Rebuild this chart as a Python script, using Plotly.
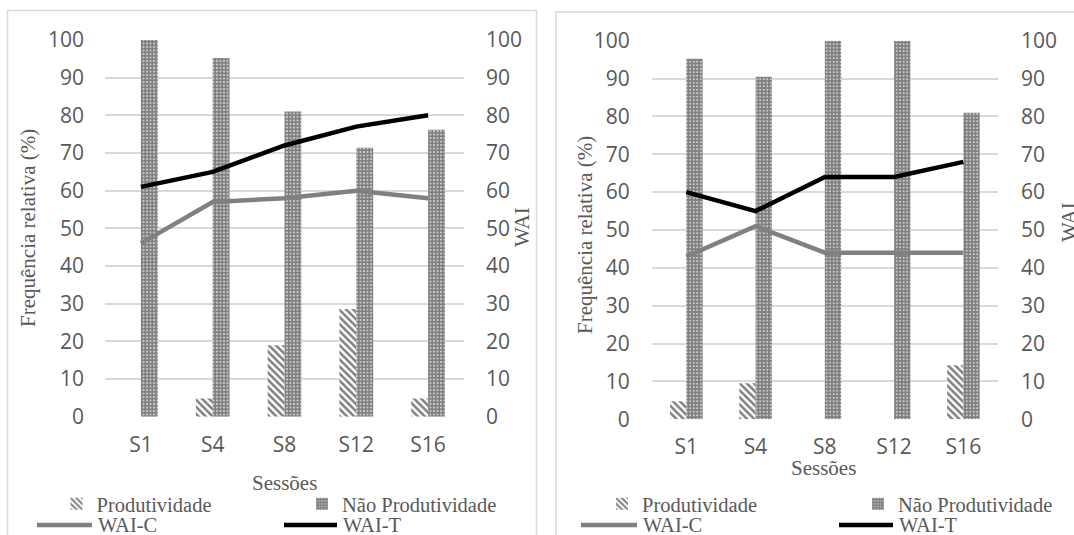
import plotly.graph_objects as go

W, H = 1074, 535

sessions = ["S1", "S4", "S8", "S12", "S16"]

# Left panel
prod_left = [0, 4.8, 19.0, 28.6, 4.8]
nprod_left = [100, 95.2, 81.0, 71.4, 76.2]
waic_left = [46, 57, 58, 60, 58]
wait_left = [61, 65, 72, 77, 80]

# Right panel
prod_right = [4.8, 9.5, 0, 0, 14.3]
nprod_right = [95.2, 90.5, 100, 100, 81.0]
waic_right = [43, 51, 44, 44, 44]
wait_right = [60, 55, 64, 64, 68]

GRAY_TXT = "#595959"
GRID = "#d9d9d9"
SANS = "Open Sans"
SERIF = "Liberation Serif"
WAIC_COLOR = "#808080"
WAIT_COLOR = "black"


def px_x(x):
    return x / W


def px_y(y):
    return 1 - y / H


fig = go.Figure()


def add_panel(prod, nprod, waic, wait, xa, ya, ya2, legs):
    fig.add_trace(go.Bar(
        x=sessions, y=prod, name="Produtividade", xaxis=xa, yaxis=ya,
        legend=legs[0],
        marker=dict(color="white", line=dict(width=0),
                    pattern=dict(shape="\\", fgcolor="black", bgcolor="white",
                                 size=5, solidity=0.5)),
    ))
    fig.add_trace(go.Bar(
        x=sessions, y=nprod, name="Não Produtividade", xaxis=xa, yaxis=ya,
        legend=legs[1],
        marker=dict(color="white", line=dict(width=0),
                    pattern=dict(shape=".", fgcolor="black", bgcolor="white",
                                 size=3.5, solidity=0.8)),
    ))
    fig.add_trace(go.Scatter(
        x=sessions, y=waic, name="WAI-C", xaxis=xa, yaxis=ya2, mode="lines",
        showlegend=False,
        line=dict(color=WAIC_COLOR, width=4.5),
    ))
    fig.add_trace(go.Scatter(
        x=sessions, y=wait, name="WAI-T", xaxis=xa, yaxis=ya2, mode="lines",
        showlegend=False,
        line=dict(color=WAIT_COLOR, width=4.5),
    ))


add_panel(prod_left, nprod_left, waic_left, wait_left, "x", "y", "y2",
          ["legend", "legend2"])
add_panel(prod_right, nprod_right, waic_right, wait_right, "x3", "y3", "y4",
          ["legend3", "legend4"])

tickfont = dict(family=SANS, size=21, color=GRAY_TXT)

xcommon = dict(type="category", showgrid=False, showline=False, zeroline=False,
               tickfont=tickfont, ticks="", ticklabelstandoff=13, fixedrange=True,
               automargin=False)
ycommon = dict(range=[0, 100], dtick=10, tickfont=tickfont, ticks="",
               zeroline=False, showline=False, fixedrange=True, automargin=False)

LEG_SIZE = 20.5
legend_font = dict(family=SERIF, size=LEG_SIZE, color=GRAY_TXT)


def legend_cfg(text_x):
    return dict(orientation="h", x=px_x(text_x - 40), y=px_y(504), xanchor="left",
                yanchor="middle", font=legend_font, bgcolor="rgba(0,0,0,0)",
                borderwidth=0, tracegroupgap=0)


fig.update_layout(
    width=W, height=H,
    margin=dict(l=0, r=0, t=0, b=0, autoexpand=False),
    paper_bgcolor="white", plot_bgcolor="white",
    barmode="group", bargap=0.53, bargroupgap=0,
    showlegend=True,
    xaxis=dict(domain=[px_x(105), px_x(464)], anchor="y", **xcommon),
    yaxis=dict(domain=[px_y(416.7), px_y(40)], anchor="x", showgrid=True,
               gridcolor=GRID, gridwidth=1.5, ticklabelstandoff=20, **ycommon),
    yaxis2=dict(overlaying="y", anchor="x", side="right", showgrid=False,
                ticklabelstandoff=21, **ycommon),
    xaxis3=dict(domain=[px_x(651.7), px_x(998)], anchor="y3", **xcommon),
    yaxis3=dict(domain=[px_y(419.3), px_y(40.7)], anchor="x3", showgrid=True,
                gridcolor=GRID, gridwidth=1.5, ticklabelstandoff=21, **ycommon),
    yaxis4=dict(overlaying="y3", anchor="x3", side="right", showgrid=False,
                ticklabelstandoff=22, **ycommon),
    legend=legend_cfg(96.5),
    legend2=legend_cfg(342),
    legend3=legend_cfg(642),
    legend4=legend_cfg(898),
)

ann_font = dict(family=SERIF, size=21, color=GRAY_TXT)
annotations = [
    dict(text="Frequência relativa (%)", x=px_x(28), y=px_y(228), textangle=-90),
    dict(text="WAI", x=px_x(522), y=px_y(227), textangle=-90),
    dict(text="Sessões", x=px_x(284.5), y=px_y(483)),
    dict(text="Frequência relativa (%)", x=px_x(585), y=px_y(235), textangle=-90),
    dict(text="WAI", x=px_x(1069), y=px_y(222), textangle=-90),
    dict(text="Sessões", x=px_x(823), y=px_y(468)),
]
for a in annotations:
    fig.add_annotation(xref="paper", yref="paper", showarrow=False,
                       xanchor="center", yanchor="middle", font=ann_font, **a)

# second legend row (line series): symbol + label
line_legend = [
    ("WAI-C", WAIC_COLOR, 37, 92, 96.5),
    ("WAI-T", WAIT_COLOR, 284, 337, 342),
    ("WAI-C", WAIC_COLOR, 581, 637, 642),
    ("WAI-T", WAIT_COLOR, 839, 893, 898),
]
ROW2_Y = 525
for name, color, x0, x1, tx in line_legend:
    fig.add_shape(type="line", xref="paper", yref="paper",
                  x0=px_x(x0), x1=px_x(x1), y0=px_y(ROW2_Y), y1=px_y(ROW2_Y),
                  line=dict(color=color, width=4.5))
    fig.add_annotation(xref="paper", yref="paper", showarrow=False,
                       x=px_x(tx), y=px_y(ROW2_Y), xanchor="left", yanchor="middle",
                       text=name, font=dict(family=SERIF, size=LEG_SIZE, color=GRAY_TXT),
                       borderpad=0)

# panel borders
fig.add_shape(type="rect", xref="paper", yref="paper",
              x0=px_x(7.5), x1=px_x(536.5), y0=-0.1, y1=px_y(10.5),
              line=dict(color=GRID, width=1.5), fillcolor="rgba(0,0,0,0)", layer="below")
fig.add_shape(type="rect", xref="paper", yref="paper",
              x0=px_x(556), x1=1.1, y0=-0.1, y1=px_y(12),
              line=dict(color=GRID, width=1.5), fillcolor="rgba(0,0,0,0)", layer="below")

fig.write_html("out.html")
